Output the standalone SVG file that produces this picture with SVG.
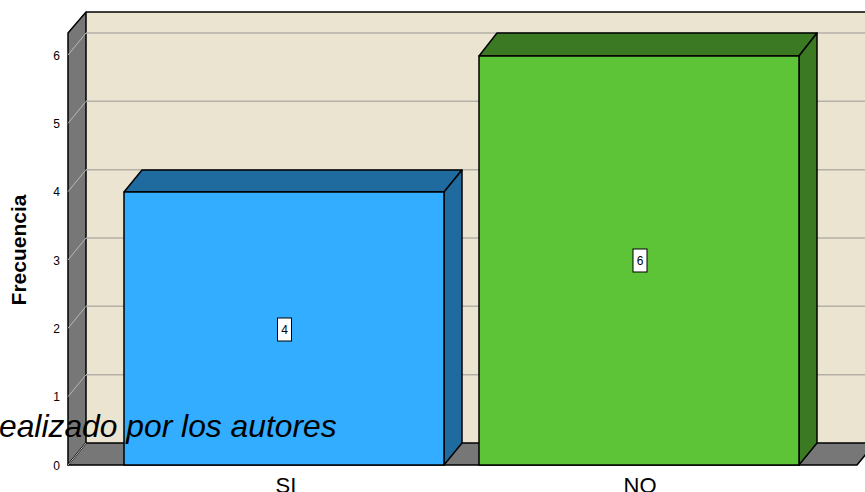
<svg xmlns="http://www.w3.org/2000/svg" width="865" height="492" viewBox="0 0 865 492">
<style>
.grid{stroke:#B4B0A8;stroke-width:1.5;fill:none}
.sgrid{stroke:#B8B8B8;stroke-width:1;fill:none}
.edge{stroke:#000;stroke-width:1.5;stroke-linejoin:round}
.tick{font-family:"Liberation Sans",Arial,sans-serif;font-size:12px;fill:#000;text-anchor:end}
.cat{font-family:"Liberation Sans",Arial,sans-serif;font-size:22px;fill:#000;text-anchor:middle}
.val{font-family:"Liberation Sans",Arial,sans-serif;font-size:12px;fill:#000;text-anchor:middle}
.vbox{fill:#fff;stroke:#000;stroke-width:1}
</style>
<rect width="865" height="492" fill="#fff"/>
<g id="frame">
<polygon points="86,12 875,12 875,443 86,443" fill="#EAE4D0"/>
<polygon class="edge" points="68,33 86,12 86,443 68,465" fill="#777777"/>
<polygon class="edge" points="68,465 86,443 875,443 857,465" fill="#777777"/>
<line class="edge" x1="86" y1="12" x2="875" y2="12"/>
</g>
<g id="gridlines">
<line class="grid" x1="86" y1="374.7" x2="865" y2="374.7"/>
<line class="grid" x1="86" y1="306.3" x2="865" y2="306.3"/>
<line class="grid" x1="86" y1="238" x2="865" y2="238"/>
<line class="grid" x1="86" y1="169.7" x2="865" y2="169.7"/>
<line class="grid" x1="86" y1="101.3" x2="865" y2="101.3"/>
<line class="grid" x1="86" y1="33" x2="865" y2="33"/>
<line class="sgrid" x1="68" y1="465" x2="86" y2="443"/>
<line class="sgrid" x1="68" y1="396.7" x2="86" y2="374.7"/>
<line class="sgrid" x1="68" y1="328.3" x2="86" y2="306.3"/>
<line class="sgrid" x1="68" y1="260" x2="86" y2="238"/>
<line class="sgrid" x1="68" y1="191.7" x2="86" y2="169.7"/>
<line class="sgrid" x1="68" y1="123.3" x2="86" y2="101.3"/>
<line class="sgrid" x1="68" y1="55" x2="86" y2="33"/>
</g>
<g id="yaxis">
<text class="tick" x="60" y="469.5">0</text>
<text class="tick" x="60" y="401">1</text>
<text class="tick" x="60" y="332.5">2</text>
<text class="tick" x="60" y="264.5">3</text>
<text class="tick" x="60" y="196">4</text>
<text class="tick" x="60" y="127.5">5</text>
<text class="tick" x="60" y="59.5">6</text>
<text x="0" y="0" transform="translate(25.5,250) rotate(-90)" font-family="'Liberation Sans',Arial,sans-serif" font-size="21" font-weight="bold" text-anchor="middle">Frecuencia</text>
</g>
<g id="bar-si">
<polygon class="edge" points="124,192 142,170 462,170 444,192" fill="#1F6A9E"/>
<polygon class="edge" points="444,192 462,170 462,443 444,465" fill="#1F6A9E"/>
<rect class="edge" x="124" y="192" width="320" height="273" fill="#33ADFF"/>
<rect class="vbox" x="277.5" y="318" width="14" height="23"/>
<text class="val" x="284.5" y="333.5">4</text>
</g>
<g id="bar-no">
<polygon class="edge" points="479,56 497,33 817,33 799,56" fill="#3B7A23"/>
<polygon class="edge" points="799,56 817,33 817,443 799,465" fill="#3B7A23"/>
<rect class="edge" x="479" y="56" width="320" height="409" fill="#5DC337"/>
<rect class="vbox" x="633" y="249" width="14" height="23"/>
<text class="val" x="640" y="264.5">6</text>
</g>
<g id="xaxis">
<text class="cat" x="286" y="493">SI</text>
<text class="cat" x="640" y="493">NO</text>
</g>
<g id="connectors"></g>
<text x="-1" y="437" font-family="'Liberation Sans',Arial,sans-serif" font-size="31.8" font-style="italic" fill="#000">ealizado por los autores</text>
</svg>
